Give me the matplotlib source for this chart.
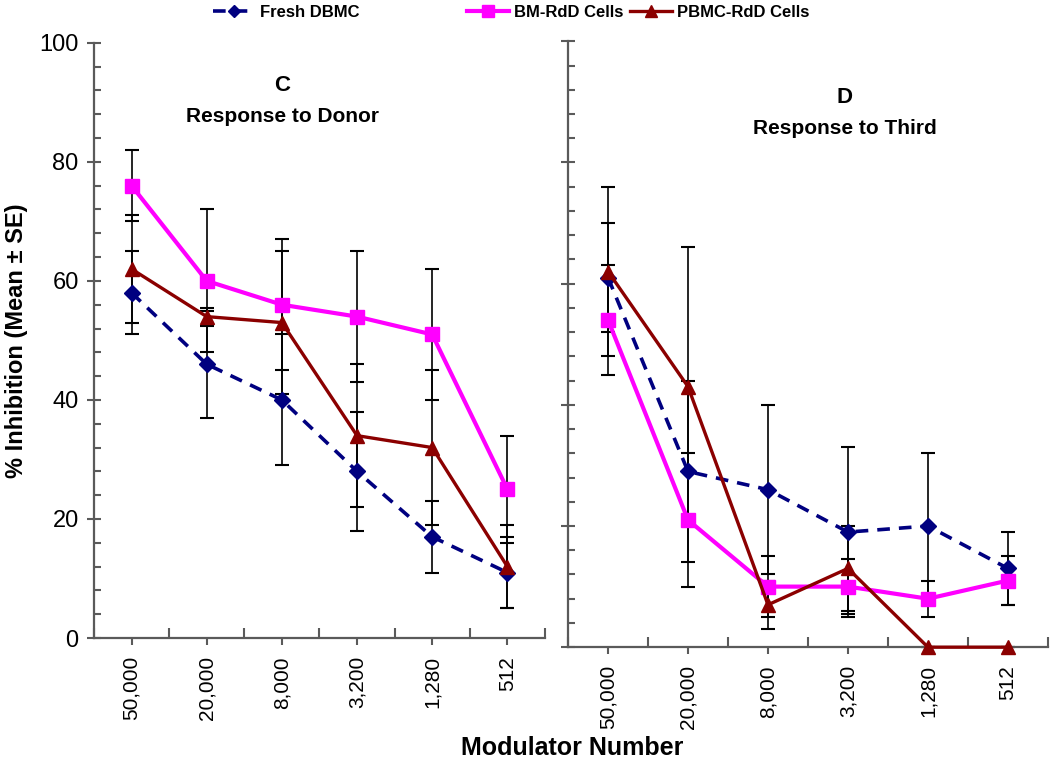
import numpy as np
import matplotlib
matplotlib.use("Agg")
import matplotlib.pyplot as plt
from matplotlib.lines import Line2D

plt.rcParams['font.family'] = ['Liberation Sans', 'DejaVu Sans']

# categories (modulator number)
modulators = ['50,000', '20,000', '8,000', '3,200', '1,280', '512']

# panel C - response to donor
donor_dbmc = [58, 46, 40, 28, 17, 11]
donor_dbmc_se = [7, 9, 11, 10, 6, 6]
donor_bm = [76, 60, 56, 54, 51, 25]
donor_bm_se = [6, 12, 11, 11, 11, 9]
donor_pbmc = [62, 54, 53, 34, 32, 12]
donor_pbmc_se = [9, 1.5, 12, 12, 13, 7]

# panel D - response to third
third_dbmc = [61, 29, 26, 19, 20, 13]
third_dbmc_se = [9, 15, 14, 14, 12, 6]
third_bm = [54, 21, 10, 10, 8, 11]
third_bm_se = [9, 11, 5, 4.5, 3, 4]
third_pbmc = [62, 43, 7, 13, 0, 0]
third_pbmc_se = [14, 23, 4, 7, 0, 0]

series_names = ['Fresh DBMC', 'BM-RdD Cells', 'PBMC-RdD Cells']
colors = ['#000080', '#FF00FF', '#8B0000']
markers = ['D', 's', '^']
msizes = [8, 10, 10]
styles = [(0, (3.5, 2.5)), '-', '-']
lwidths = [2.6, 3.0, 2.4]

fig = plt.figure(figsize=(10.5, 7.65), dpi=100)
ax1 = fig.add_axes([0.0895, 0.166, 0.4295, 0.778])
ax2 = fig.add_axes([0.541, 0.154, 0.457, 0.792])

x = np.arange(len(modulators))
spine_col = '#5a5a5a'


def draw_panel(ax, vals, errs, show_ylabels):
    for v, e in zip(vals, errs):
        ax.errorbar(x, v, yerr=e, fmt='none', ecolor='black', elinewidth=1.2,
                    capsize=5, capthick=1.5, zorder=1, clip_on=False)
    for i, v in enumerate(vals):
        ax.plot(x, v, color=colors[i], marker=markers[i], ms=msizes[i],
                ls=styles[i], lw=lwidths[i], zorder=3 + i, clip_on=False)
    ax.set_xlim(-0.5, 5.5)
    ax.set_ylim(0, 100)
    for s in ['top', 'right']:
        ax.spines[s].set_visible(False)
    for s in ['left', 'bottom']:
        ax.spines[s].set_color(spine_col)
        ax.spines[s].set_linewidth(1.6)
    ax.set_yticks(np.arange(0, 101, 20))
    ax.set_yticks(np.arange(0, 101, 4), minor=True)
    ax.tick_params(axis='y', which='major', direction='inout', length=10,
                   width=1.5, color=spine_col, labelsize=17, pad=6)
    ax.tick_params(axis='y', which='minor', direction='in', length=5,
                   width=1.5, color=spine_col)
    if not show_ylabels:
        ax.set_yticklabels([])
    # boundary ticks inward, labelled centre ticks outward
    ax.set_xticks(np.arange(-0.5, 6, 1))
    ax.set_xticklabels([])
    ax.set_xticks(x, minor=True)
    ax.set_xticklabels(modulators, minor=True, rotation=90, fontsize=15)
    ax.tick_params(axis='x', which='major', direction='in', length=7,
                   width=1.5, color=spine_col)
    ax.tick_params(axis='x', which='minor', direction='out', length=5,
                   width=1.5, color=spine_col, pad=8)


draw_panel(ax1, [donor_dbmc, donor_bm, donor_pbmc],
           [donor_dbmc_se, donor_bm_se, donor_pbmc_se], True)
draw_panel(ax2, [third_dbmc, third_bm, third_pbmc],
           [third_dbmc_se, third_bm_se, third_pbmc_se], False)

ax1.text(0.417, 0.929, 'C', transform=ax1.transAxes, ha='center', va='center',
         fontsize=16, fontweight='bold')
ax1.text(0.417, 0.876, 'Response to Donor', transform=ax1.transAxes,
         ha='center', va='center', fontsize=15, fontweight='bold')
ax2.text(0.577, 0.908, 'D', transform=ax2.transAxes, ha='center', va='center',
         fontsize=16, fontweight='bold')
ax2.text(0.577, 0.856, 'Response to Third', transform=ax2.transAxes,
         ha='center', va='center', fontsize=15, fontweight='bold')

ax1.set_ylabel('% Inhibition (Mean \u00b1 SE)', fontsize=17, fontweight='bold',
               labelpad=8)
fig.text(0.545, 0.022, 'Modulator Number', ha='center', va='center',
         fontsize=18, fontweight='bold')

# legend items placed one by one, as in the source layout
legend_x = [0.203, 0.445, 0.6]
for i in range(3):
    h = Line2D([], [], color=colors[i], marker=markers[i], ms=msizes[i] - 2,
               ls=styles[i], lw=lwidths[i])
    fig.legend([h], [series_names[i]], loc='center left',
               bbox_to_anchor=(legend_x[i], 0.984), frameon=False,
               prop={'weight': 'bold', 'size': 12}, handlelength=2.5,
               handletextpad=0.3, borderpad=0, borderaxespad=0)

fig.savefig('out.png', dpi=100)
